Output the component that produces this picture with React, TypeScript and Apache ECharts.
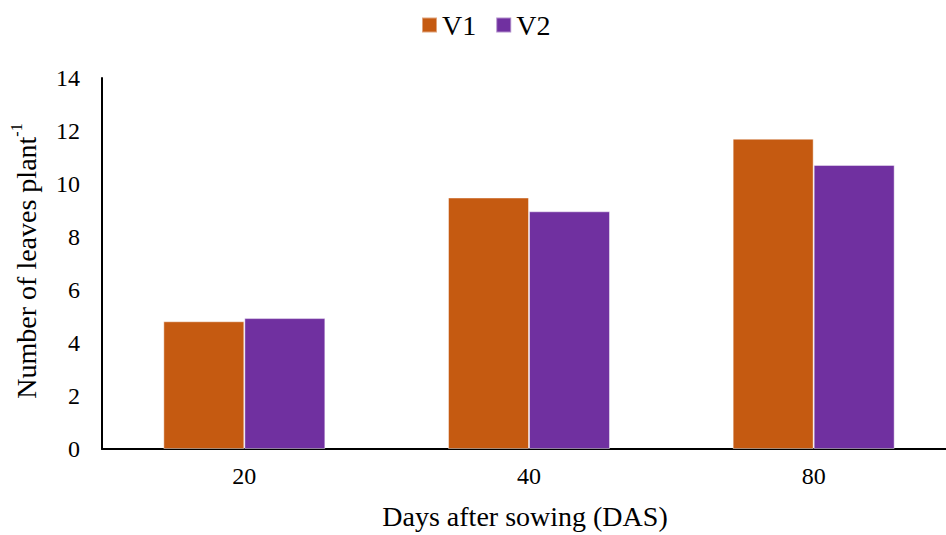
import React, { useEffect, useRef } from "react";
import * as echarts from "echarts";

const categories = ["20", "40", "80"];
const v1Values = [4.82, 9.49, 11.71];
const v2Values = [4.94, 8.97, 10.72];
const seriesNames = ["V1", "V2"];
const seriesColors = ["#C55A11", "#7030A0"];

const FONT = "Liberation Serif";

export default function App() {
  const ref = useRef<HTMLDivElement>(null);
  useEffect(() => {
    if (!ref.current) return;
    const chart = echarts.init(ref.current, undefined, { renderer: "svg" });
    chart.setOption({
      animation: false,
      backgroundColor: "#ffffff",
      textStyle: { fontFamily: FONT, color: "#000" },
      legend: {
        data: seriesNames,
        top: 6,
        left: 416,
        itemWidth: 15,
        itemHeight: 15,
        itemGap: 19,
        icon: "rect",
        textStyle: { fontFamily: FONT, fontSize: 28, color: "#000", padding: [0, 0, 0, 0] },
      },
      grid: { left: 98, top: 78, width: 858, height: 375.5 },
      xAxis: {
        type: "category",
        data: categories,
        name: "Days after sowing (DAS)",
        nameLocation: "middle",
        nameGap: 53,
        nameTextStyle: { fontFamily: FONT, fontSize: 28, color: "#000", padding: [0, 8, 0, 0] },
        axisLine: { show: true, lineStyle: { color: "#000", width: 2 } },
        axisTick: { show: false },
        axisLabel: { fontFamily: FONT, fontSize: 24, color: "#000", margin: 15 },
      },
      yAxis: {
        type: "value",
        min: 0,
        max: 14,
        interval: 2,
        name: "{a|Number of leaves plant}{s|-1}",
        nameLocation: "middle",
        nameGap: 62,
        nameTextStyle: {
          fontFamily: FONT,
          color: "#000",
          padding: [0, 0, 0, 5],
          rich: {
            a: { fontFamily: FONT, fontSize: 28, color: "#000", lineHeight: 32, verticalAlign: "bottom" },
            s: { fontFamily: FONT, fontSize: 16, color: "#000", lineHeight: 32, verticalAlign: "top" },
          },
        },
        axisLine: { show: true, lineStyle: { color: "#000", width: 2 } },
        axisTick: { show: false },
        splitLine: { show: false },
        axisLabel: { fontFamily: FONT, fontSize: 24, color: "#000", margin: 22 },
      },
      series: [
        {
          name: seriesNames[0],
          type: "bar",
          data: v1Values,
          barWidth: 81,
          barGap: "0%",
          itemStyle: { color: seriesColors[0], borderColor: "rgba(255,255,255,0.45)", borderWidth: 1 },
        },
        {
          name: seriesNames[1],
          type: "bar",
          data: v2Values,
          barWidth: 81,
          barGap: "0%",
          itemStyle: { color: seriesColors[1], borderColor: "rgba(255,255,255,0.45)", borderWidth: 1 },
        },
      ],
    });
    return () => chart.dispose();
  }, []);
  return (
    <div style={{ position: "absolute", left: 0, top: 0, width: 946, height: 535, overflow: "hidden" }}>
      <div ref={ref} style={{ width: 956, height: 535 }} />
    </div>
  );
}
